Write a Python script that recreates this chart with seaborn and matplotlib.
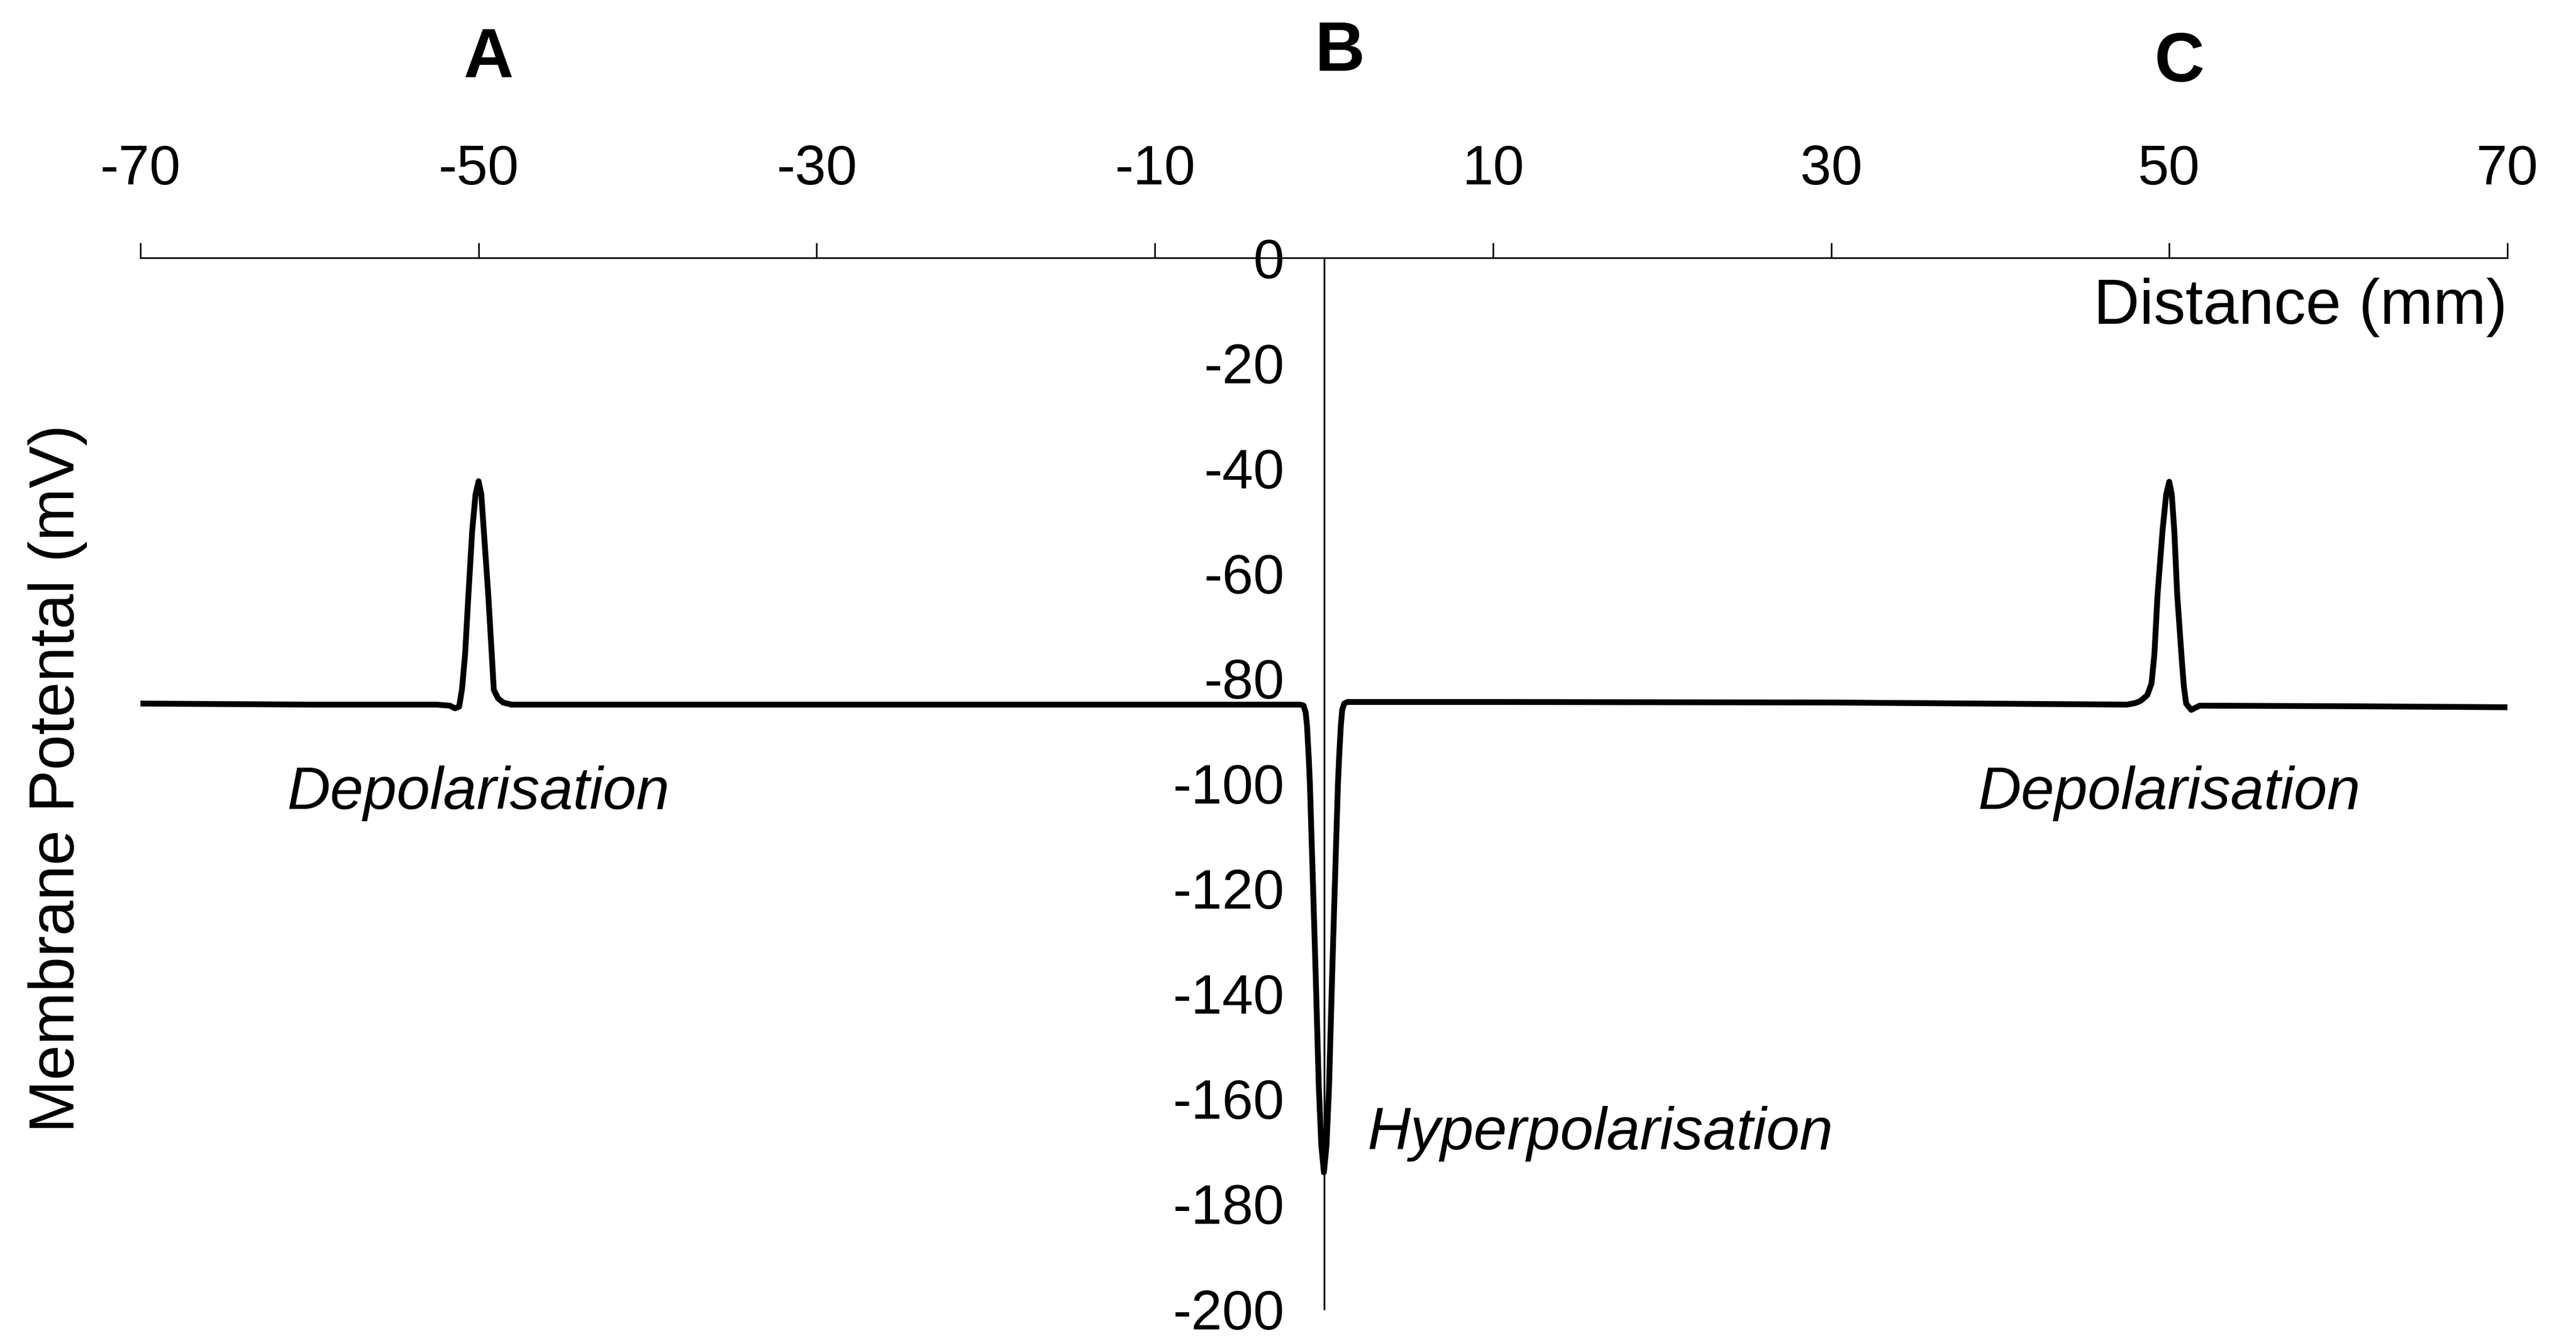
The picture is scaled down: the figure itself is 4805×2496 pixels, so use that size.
import matplotlib
matplotlib.use("Agg")
import matplotlib.pyplot as plt
import seaborn as sns
import pandas as pd

# ---- data ----
distance_mm = [
    -70.0, -60.0, -52.5,
    -51.7, -51.4, -51.15, -50.98, -50.8, -50.6, -50.38, -50.18, -50.0,
    -49.84, -49.69, -49.43, -49.22, -49.1, -48.85, -48.55, -48.05,
    -30.0, -10.0, -1.4,
    -1.2, -1.08, -1.0, -0.9, -0.83, -0.63, -0.5, -0.3, -0.15, 0.0,
    0.15, 0.3, 0.5, 0.63, 0.83, 0.9, 1.0, 1.08, 1.2, 1.4,
    10.0, 30.0, 47.5,
    48.0, 48.3, 48.7, 48.95, 49.12, 49.31, 49.6, 49.82, 50.0,
    50.15, 50.3, 50.47, 50.72, 50.86, 51.0, 51.3, 51.8,
    60.0, 70.0,
]
potential_mV = [
    -84.8, -85.0, -85.0,
    -85.2, -85.7, -85.4, -82.0, -75.5, -64.0, -52.0, -45.0, -42.5,
    -45.0, -52.0, -64.0, -75.5, -82.2, -83.8, -84.6, -85.0,
    -85.0, -85.0, -85.0,
    -85.2, -86.5, -89.0, -95.0, -100.0, -121.0, -135.0, -158.0, -169.0, -174.0,
    -169.0, -158.0, -135.0, -121.0, -100.0, -95.0, -89.0, -86.0, -84.8, -84.5,
    -84.5, -84.6, -85.0,
    -84.7, -84.3, -83.2, -81.0, -75.5, -64.0, -52.0, -45.0, -42.6,
    -45.0, -52.0, -64.0, -75.5, -81.4, -84.8, -86.0, -85.2,
    -85.3, -85.5,
]
x_ticks = [-70, -50, -30, -10, 10, 30, 50, 70]
y_ticks = [0, -20, -40, -60, -80, -100, -120, -140, -160, -180, -200]
site_labels = ["A", "B", "C"]
site_pos = [(-49.4, 37.8), (0.95, 39.0), (50.6, 37.0)]

df = pd.DataFrame({"Distance (mm)": distance_mm, "Membrane Potental (mV)": potential_mV})

sns.set_style("white")
plt.rcParams["font.family"] = ["Liberation Sans", "DejaVu Sans"]
plt.rcParams["text.color"] = "black"

fig = plt.figure(figsize=(4805 / 300, 2496 / 300), dpi=300)
ax = fig.add_axes([0.05453, 0.02163, 0.91883, 0.78566])

sns.lineplot(data=df, x="Distance (mm)", y="Membrane Potental (mV)", ax=ax,
             color="black", linewidth=2.6, estimator=None, sort=False)

ax.set_xlim(-70, 70)
ax.set_ylim(-200, 0)

# spines: top at y=0, left through x=0
for s in ["bottom", "right"]:
    ax.spines[s].set_visible(False)
ax.spines["top"].set_linewidth(0.7)
ax.spines["top"].set_color("black")
ax.spines["left"].set_position(("data", 0))
ax.spines["left"].set_linewidth(0.8)
ax.spines["left"].set_color("black")

ax.xaxis.tick_top()
ax.set_xticks(x_ticks)
ax.set_xticklabels([str(v) for v in x_ticks])
ax.set_yticks(y_ticks)
ax.set_yticklabels([str(v) for v in y_ticks])
ax.tick_params(axis="x", which="major", direction="out", length=6.7, width=0.7,
               pad=21, labelsize=25, colors="black")
ax.tick_params(axis="y", which="major", direction="out", length=6.7, width=0.7,
               pad=11, labelsize=25, colors="black")
ax.set_xlabel("")
ax.set_ylabel("")
ax.grid(False)

ax.text(70, -9.4, "Distance (mm)", ha="right", va="center", fontsize=28.5,
        color="black")
fig.text(0.0223, 0.4183, "Membrane Potental (mV)", rotation=90, ha="center",
         va="center", fontsize=28.4, color="black")

ax.text(-50, -101.9, "Depolarisation", ha="center", va="center",
        fontsize=26.8, style="italic", color="black")
ax.text(50, -101.9, "Depolarisation", ha="center", va="center",
        fontsize=26.8, style="italic", color="black")
ax.text(16.35, -166.6, "Hyperpolarisation", ha="center", va="center",
        fontsize=26.8, style="italic", color="black")

for lab, (px, py) in zip(site_labels, site_pos):
    ax.text(px, py, lab, ha="center", va="center", fontsize=31,
            fontweight="bold", color="black", clip_on=False)

fig.savefig("out.png", dpi=300, facecolor="white")
